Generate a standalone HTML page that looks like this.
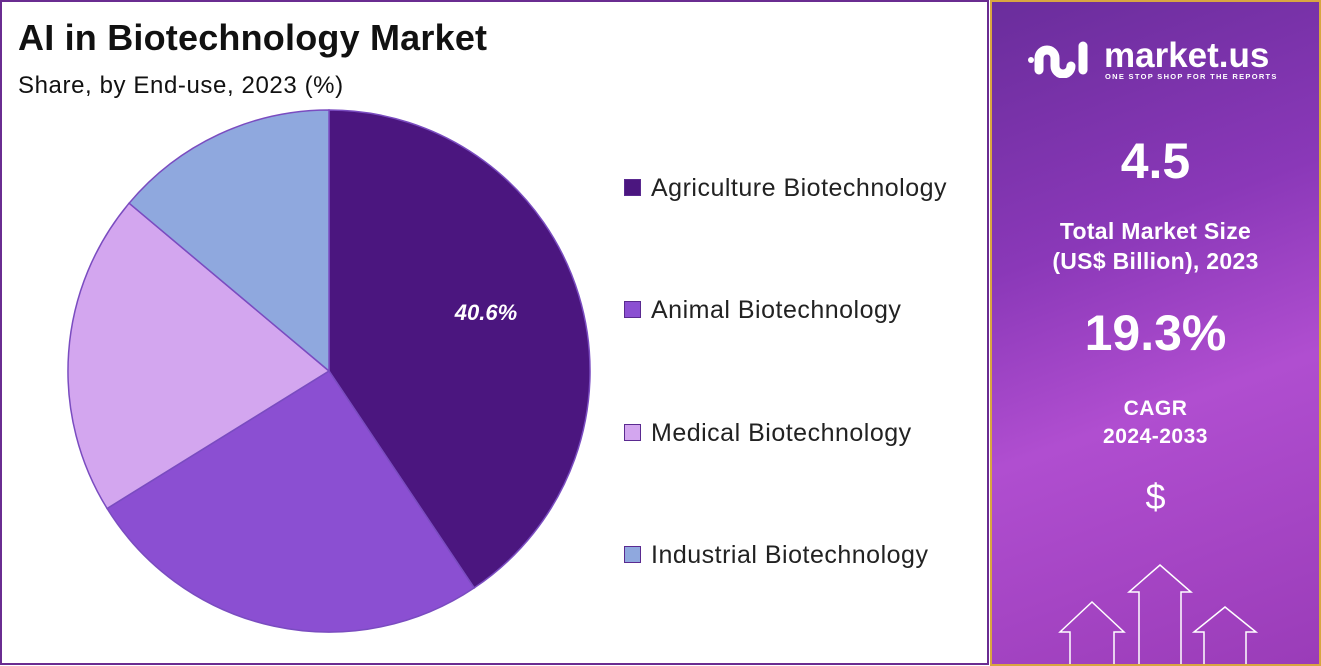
<!DOCTYPE html>
<html><head><meta charset="utf-8"><style>
body{margin:0;width:1321px;height:666px;overflow:hidden;background:#fff;font-family:"Liberation Sans",sans-serif;position:relative}
.left{position:absolute;left:0;top:0;width:985px;height:661px;border:2px solid #6a2c91;background:#fff}
h1{position:absolute;left:16px;top:15px;margin:0;font-size:36px;font-weight:bold;color:#111;letter-spacing:0.2px}
.sub{position:absolute;left:16px;top:70px;font-size:24px;color:#111;letter-spacing:0.6px}
.leg{position:absolute;left:622px;font-size:25px;color:#222;letter-spacing:0.5px;white-space:nowrap}
.leg span{display:inline-block;width:15px;height:15px;margin-right:10px;vertical-align:0px;border:1px solid #5a2a90}
.right{position:absolute;left:990px;top:0;width:327px;height:662px;border:2px solid #d9a640;background:linear-gradient(160deg,#6a2d9c 0%,#8a38b8 35%,#b04ed0 60%,#9a3cb8 100%);color:#fff;text-align:center;overflow:hidden}
.right div{position:absolute;left:0;width:100%}
</style></head><body>
<div class="left">
<h1>AI in Biotechnology Market</h1>
<div class="sub">Share, by End-use, 2023 (%)</div>
<svg width="985" height="661" style="position:absolute;left:-2px;top:-2px">
<g stroke="#7a4cc0" stroke-width="1.5">
<path d="M329,371 L329,110 A261,261 0 0 1 474.2,587.9 Z" fill="#4b167f"/>
<path d="M329,371 L474.2,587.9 A261,261 0 0 1 107.1,508.5 Z" fill="#8b4fd2"/>
<path d="M329,371 L107.1,508.5 A261,261 0 0 1 129.1,203.2 Z" fill="#d3a6ef"/>
<path d="M329,371 L129.1,203.2 A261,261 0 0 1 329,110 Z" fill="#8fa8de"/>
</g>
<text x="486" y="320" fill="#fff" font-size="22" font-weight="bold" font-style="italic" text-anchor="middle" font-family="Liberation Sans">40.6%</text>
</svg>
<div class="leg" style="top:172px"><span style="background:#4b167f"></span>Agriculture Biotechnology</div>
<div class="leg" style="top:294px"><span style="background:#8b4fd2"></span>Animal Biotechnology</div>
<div class="leg" style="top:417px"><span style="background:#d3a6ef"></span>Medical Biotechnology</div>
<div class="leg" style="top:539px"><span style="background:#8fa8de"></span>Industrial Biotechnology</div>
</div>
<div class="right">
<svg width="70" height="40" style="position:absolute;left:33px;top:36px" fill="none" stroke="#fff" stroke-width="9" stroke-linecap="round">
<circle cx="6" cy="22" r="3" fill="#fff" stroke="none"/>
<path d="M14,32 V20 a8,8 0 0 1 16,0 V28 a8,8 0 0 0 16,0"/>
<path d="M58,8 V32"/>
</svg>
<div style="top:34px;font-size:35px;font-weight:bold;left:112px;width:auto;text-align:left">market.us</div>
<div style="top:70px;font-size:7.5px;font-weight:bold;left:113px;width:auto;text-align:left;letter-spacing:1.3px">ONE STOP SHOP FOR THE REPORTS</div>
<div style="top:130px;font-size:50px;font-weight:bold">4.5</div>
<div style="top:214px;font-size:23px;font-weight:bold;line-height:30px;letter-spacing:0.3px">Total Market Size<br>(US$ Billion), 2023</div>
<div style="top:302px;font-size:50px;font-weight:bold">19.3%</div>
<div style="top:393px;font-size:21px;font-weight:bold;line-height:28px;letter-spacing:0.5px">CAGR<br>2024-2033</div>
<div style="top:474px;font-size:36px">$</div>
<svg width="327" height="662" style="position:absolute;left:0;top:0" fill="none" stroke="#fff" stroke-width="1.5">
<path d="M78,662 V630 H68 L100,600 L132,630 H122 V662"/>
<path d="M147,662 V590 H137 L168,563 L199,590 H189 V662"/>
<path d="M212,662 V630 H202 L233,605 L264,630 H254 V662"/>
</svg>
</div>
</body></html>
